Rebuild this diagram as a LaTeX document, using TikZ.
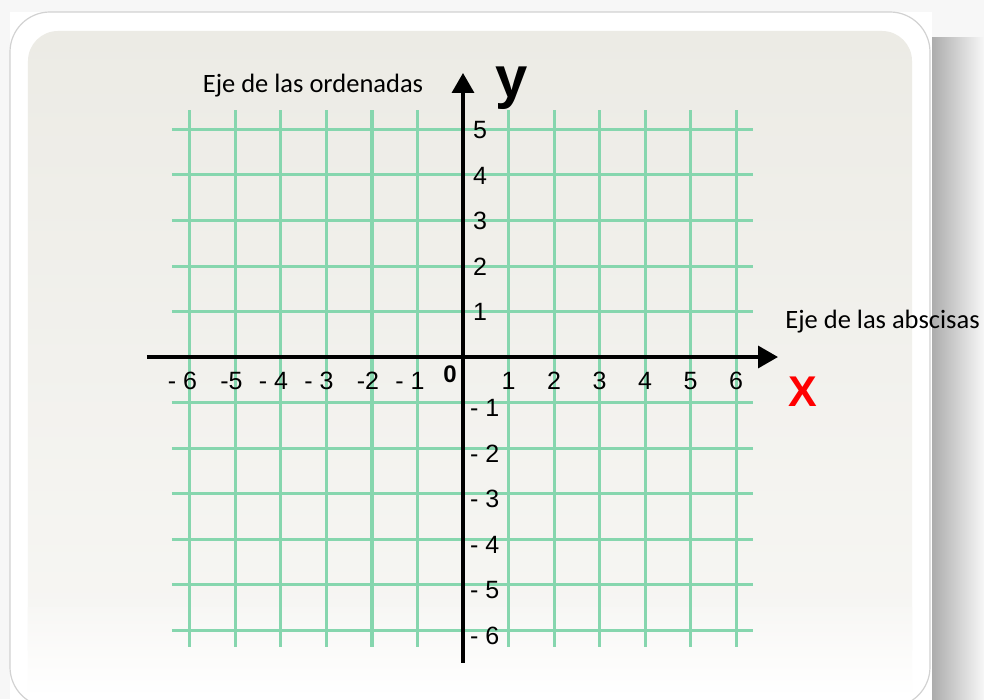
\documentclass[tikz,border=0pt]{standalone}
\usepackage{fontspec}
\setmainfont{Liberation Sans}
\newfontfamily\calibrifont{Carlito}
\usetikzlibrary{arrows.meta, positioning, calc}
\definecolor{gGreen}{HTML}{86D6AE}
\definecolor{bgTop}{HTML}{ECEBE5}
\definecolor{xRed}{HTML}{FF0000}

\begin{document}
\begin{tikzpicture}[x=45.5pt, y=45.5pt,
      >={Triangle[length=20pt, width=22pt]},
      gline/.style={gGreen, line width=3pt},
      axis/.style={black, line width=3.5pt},
      num/.style={font=\fontsize{25}{25}\selectfont, inner sep=0pt},
      eje/.style={font=\calibrifont\fontsize{26.5}{26.5}\selectfont, inner sep=0pt}]
    \useasboundingbox (-463pt,-342pt) rectangle (521pt,357pt);
    \fill[gray!6] (-463pt,-342pt) rectangle (521pt,357pt);
    \shade[left color=gray!65, right color=gray!6] (469pt,-342pt) rectangle (521pt,320pt);
    \shade[top color=gray!6, bottom color=gray!65!gray!6] (469pt,330pt) rectangle (521pt,320pt);
    \fill[white] (-453pt,-342pt) rectangle (469pt,345pt);
    \draw[gray!35, line width=1.2pt, rounded corners=40pt] (-453pt,-350pt) rectangle (467pt,345pt);
    \shade[top color=bgTop, bottom color=white!60!bgTop, rounded corners=30pt] (-435pt,-323pt) rectangle (449pt,326pt);
    \shade[top color=white!60!bgTop, bottom color=white] (-435pt,-250pt) rectangle (449pt,-340pt);
    \foreach \i in {-6,...,6} \draw[gline] (\i,-6.37) -- (\i,5.43);
    \foreach \j in {-6,...,5} \draw[gline] (-6.4,\j) -- (6.37,\j);
    \coordinate (xs) at (-6.945,0);
    \coordinate (xe) at (6.923,0);
    \coordinate (ys) at (0,-6.725);
    \coordinate (ye) at (0,6.242);
    \draw[axis, ->] (xs) -- (xe);
    \draw[axis, ->] (ys) -- (ye);
    \foreach \i in {1,...,6} \node[num, anchor=base] (xp\i) at (\i,-0.725) {\i};
    \foreach \i/\t in {1/- 1, 2/-2, 3/- 3, 4/- 4, 5/-5, 6/- 6}
      \node[num, anchor=base east] (xn\i) at (-\i+0.16,-0.725) {\t};
    \foreach \i in {1,...,5} \node[num, anchor=base] (yp\i) at (0.374,\i-0.2) {\i};
    \foreach \i in {1,...,6} \node[num, anchor=base west] (yn\i) at (0.154,-\i-0.31) {- \i};
    \node[num, font=\bfseries\fontsize{24}{24}\selectfont, anchor=base] (zero) at (-0.286,-0.57) {0};
    \node[font=\bfseries\fontsize{58}{58}\selectfont, inner sep=0pt] (ylbl) at (1.077,5.91) {y};
    \node[font=\bfseries\fontsize{43}{43}\selectfont, text=xRed, inner sep=0pt] (xlbl) at (7.47,-0.77) {X};
    \node[eje] (ord) at (-3.297,5.956) {Eje de las ordenadas};
    \node[eje] (abs) at (9.22,0.77) {Eje de las abscisas};
  \end{tikzpicture}
\end{document}
